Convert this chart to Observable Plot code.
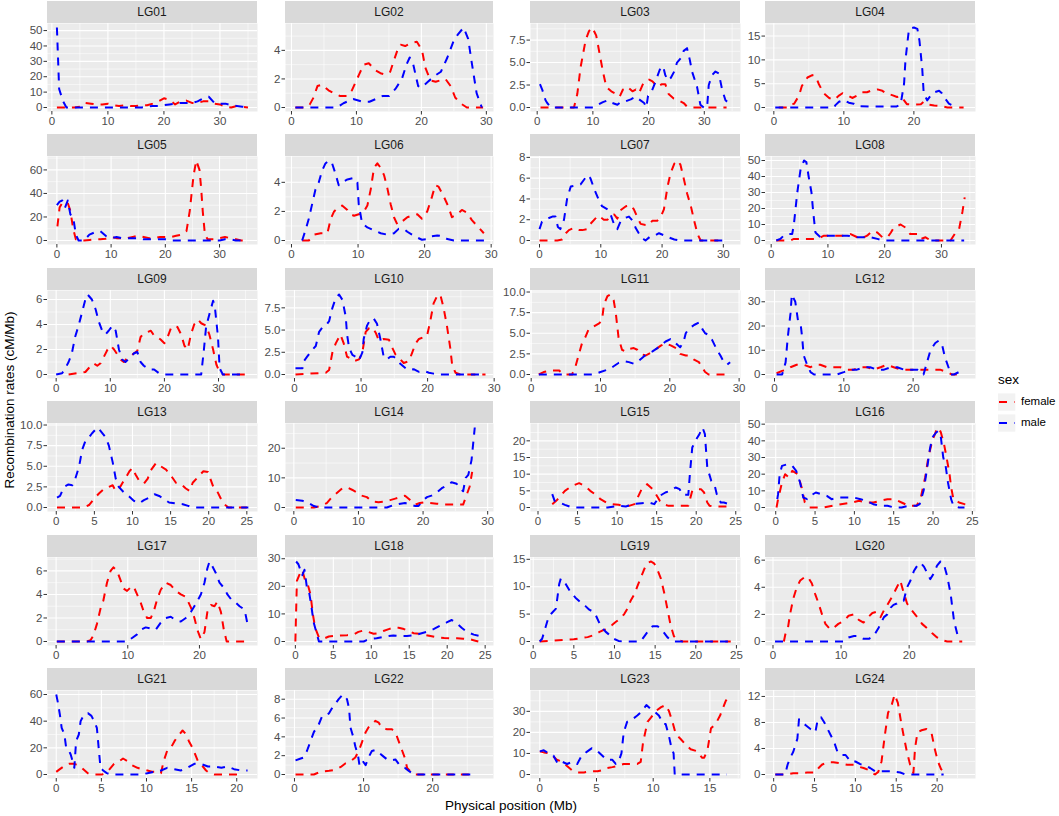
<!DOCTYPE html>
<html><head><meta charset="utf-8">
<script src="https://cdn.jsdelivr.net/npm/d3@7"></script>
<script src="https://cdn.jsdelivr.net/npm/@observablehq/plot@0.6"></script>
<style>
body{margin:0;background:#fff;}
#chart{position:relative;width:1059px;height:816px;background:#fff;font-family:"Liberation Sans",Arial,sans-serif;overflow:hidden}
.strip{position:absolute;background:#D9D9D9;color:#1A1A1A;font-size:12px;text-align:center;height:22px;line-height:22px;}
.panel{position:absolute;}
#deco{position:absolute;left:0;top:0;}
</style></head><body><div id="chart"></div><script>
const panelNames = ["LG01","LG02","LG03","LG04","LG05","LG06","LG07","LG08","LG09","LG10","LG11","LG12","LG13","LG14","LG15","LG16","LG17","LG18","LG19","LG20","LG21","LG22","LG23","LG24"];
const sexLevels = ["female","male"];

// [position (Mb), rate (cM/Mb)]
const f01 = [[0.9,0],[2,0],[4,0],[5,0.5],[6,3],[7,2.5],[8,2],[9,2],[10,2.5],[11,1.5],[12,1],[13,1.5],[14,1],[15,1],[16,1.5],[17,1.5],[18,2.5],[19,4],[20,6],[21,5],[22,2],[23,4],[24,4.5],[25,3],[26,3],[27,4],[28,4],[29,2.5],[30,2],[31,0.5],[32,0],[33,1],[34,0.5],[35,0]];
const m01 = [[0.9,52],[1.3,12],[2,4],[2.6,0],[5,0],[8,0],[10,0],[12,0],[14,0],[16,0],[17,0.5],[18,1],[19,1],[20,1.5],[21,2],[22,2.5],[23,3],[24,3],[25,3],[26,4],[27,6],[28,7],[29,3],[30,2.5],[31,2.5],[32,1.5],[33,1],[34,0.5],[35,0]];
const f02 = [[0.6,0],[2,0],[2.8,0.2],[3.4,0.7],[4,1.5],[4.7,1.6],[5.7,1.2],[6.5,1],[7.5,0.8],[8.5,0.8],[9.3,1.2],[10.4,2.3],[11.1,3],[11.9,3.1],[12.9,2.6],[13.7,2.4],[14.5,2.3],[15.2,2.5],[15.7,3.2],[16.3,4],[16.8,4.4],[17.5,4.3],[18.3,4.5],[19.3,4.6],[20.1,4],[20.6,2.8],[21.4,1.9],[22.2,1.8],[22.9,1.9],[23.7,2],[24.5,1.5],[25.2,0.7],[26,0.3],[27,0],[29.5,0]];
const m02 = [[0.6,0],[7,0],[8,0.3],[9.5,0.6],[11,0.4],[12,0.4],[13,0.6],[14,0.8],[15,0.8],[16,1.3],[17,2],[17.7,3],[18.2,3.5],[18.7,3.1],[19.5,1.5],[20,1.4],[21,1.8],[22,2.2],[23,2.5],[24,3.5],[25,4.7],[25.6,5.1],[26.5,5.6],[27.2,4.8],[27.8,3],[28.5,1],[29.3,0]];
const f03 = [[0.6,0],[3,0],[6.6,0],[7.2,1.5],[7.8,4.5],[8.7,7.5],[9.3,8.5],[9.9,8.9],[10.6,8],[11.2,6],[11.8,4],[12.4,2.3],[13.3,1.8],[14.2,1.5],[14.8,1.2],[15.4,2],[16.2,2.3],[17.1,1.8],[17.7,2],[18.3,1.6],[18.9,2.5],[19.5,3],[20.1,3.1],[20.7,2.9],[21.6,2.3],[22.4,2.6],[23,2.6],[23.6,1.5],[24.5,1],[25.4,0.8],[26.3,0.5],[26.9,0.1],[27.8,0],[34,0]];
const m03 = [[0.5,2.6],[0.9,2],[1.5,0.8],[1.8,0.5],[2.5,0],[10,0],[10.9,0.3],[11.8,0.6],[12.7,0.8],[13.5,0.5],[14.4,0.3],[15,0.6],[15.9,0.7],[16.8,0.9],[17.7,1.2],[18.3,0.9],[19.2,0.5],[19.6,0],[19.9,1.3],[20.5,1.7],[21.2,2.8],[22,4.2],[22.6,4.6],[23,3.6],[23.5,3],[24,3.3],[24.6,4],[25.1,5],[25.8,5.5],[26.3,6.3],[26.9,6.6],[27.4,5.3],[27.8,4],[28.7,2.3],[29.3,0.3],[29.9,0],[30.5,0],[30.8,2.5],[31.4,3.6],[32,4],[32.6,3.8],[33.2,2],[33.8,0.8],[34.4,0.5]];
const f04 = [[0.7,0],[1.9,0],[2.4,0.7],[2.9,0.8],[3.6,2.5],[4,4.5],[4.8,6.3],[5.5,6.8],[6,6.5],[6.4,5],[7.1,3],[7.9,2],[8.6,1.6],[9.3,2.5],[9.8,3],[10.5,2.6],[11.2,2],[11.9,2.5],[12.6,3.2],[13.3,3.2],[14,3.6],[14.8,3.8],[15.5,3.5],[16.2,2.8],[16.9,2.6],[17.6,2.2],[18.1,2.4],[18.6,1.5],[19,0.7],[20,0.6],[21,0.7],[21.4,1.2],[22.1,0.6],[22.9,0.4],[23.8,0.3],[24.8,0],[27.1,0]];
const m04 = [[0.2,0],[8.6,0],[8.8,0.5],[9.3,1.2],[10,1.6],[10.7,1],[11.4,0.8],[11.9,0.3],[14,0.2],[17.5,0.2],[18.1,0.6],[18.6,5],[18.8,10],[19.3,16.5],[20,16.8],[20.5,16.5],[20.8,14],[21.2,8],[21.4,3],[21.9,1.5],[22.4,2.5],[22.9,3.2],[23.6,3.5],[24,3],[24.5,1.8],[25,0.8],[25.7,0.3],[26.2,0]];
const f05 = [[0.1,12],[0.5,28],[1,32],[2,32],[2.5,25],[3,10],[3.5,1],[4,0],[5,0],[6,0.5],[7,1],[8,1],[9,1.5],[10,3],[11,2],[12,2],[13,2],[14,3],[15,4],[16,3],[17,2],[18,2],[19,3],[20,3],[21,3],[22,4],[23,5],[23.9,8],[24.5,25],[25.2,55],[25.7,68],[26.3,60],[26.6,45],[26.9,25],[27.3,5],[27.8,1],[29,1],[30,2],[31,3],[32,2],[33,1],[34,0],[35.2,0]];
const m05 = [[0,30],[0.5,33],[1,34],[1.5,28],[2,34],[2.5,22],[3,20],[3.5,5],[4,0],[5,0],[6,5],[7,7],[8,8],[9,4],[10,2],[11,3],[12,2],[13,2],[14,2],[15,2],[16,1],[17,1],[18,1],[19,1],[20,1],[21,0],[30,0],[31,1],[32,1],[33,0],[35,0]];
const f06 = [[1.6,0],[2.6,0],[3.4,0.4],[4.4,0.5],[5.4,0.5],[5.9,1.5],[6.4,2],[7.1,2.3],[7.6,2.4],[8.4,2.1],[8.9,1.8],[9.4,1.7],[10.1,1.8],[10.9,2],[11.4,2.4],[11.9,3.5],[12.4,5],[12.9,5.3],[13.4,5],[13.9,4.5],[14.4,3.6],[14.9,2.5],[15.4,1.6],[15.9,1.1],[16.6,1.3],[17.4,1.6],[18.1,1.7],[18.9,1.8],[19.6,1.5],[20.4,2],[21.1,3],[21.6,3.8],[22.1,3.7],[22.9,3],[23.6,2.3],[24.1,1.6],[24.9,1.8],[25.6,2.1],[26.4,1.9],[27.1,1.4],[27.9,1],[28.9,0.5]];
const m06 = [[1.6,0],[2.1,0.7],[2.6,1.5],[3.1,2.5],[3.6,3.5],[4.1,4],[4.6,4.8],[5.1,5.3],[5.6,5.5],[6.1,5.3],[6.6,4.6],[7.1,3.8],[7.6,4],[8.4,4.2],[9.4,4.3],[9.9,4],[10.1,2.5],[10.6,1.2],[11.4,0.9],[12.4,0.7],[13.4,0.5],[14.4,0.4],[15.4,0.5],[16.1,0.8],[16.9,0.8],[17.4,0.6],[18.1,0.4],[18.9,0.2],[19.6,0.05],[20.4,0.1],[21.1,0.3],[21.9,0.35],[22.6,0.3],[23.4,0.1],[24.4,0],[29.1,0]];
const f07 = [[0,0],[2.9,0],[3.7,0.1],[4.3,0.7],[4.8,1],[5.6,1.2],[6.4,1],[7,1],[7.8,1.1],[8.3,1.6],[9.1,2.1],[9.6,2.4],[10.5,2],[11.1,2],[11.6,2.4],[12.2,2.5],[12.7,2.1],[13.2,2.9],[14.1,3.3],[14.9,3.4],[15.4,3],[16,2.2],[16.5,1.6],[17.3,1.5],[17.9,1.5],[18.4,1.9],[19.2,1.9],[19.8,2.3],[20.3,3],[20.9,5.2],[21.4,6.5],[22,7.4],[22.5,7.7],[23,7.3],[23.6,5.8],[24.1,4.5],[24.7,3.3],[25.2,2],[25.8,0.6],[26.3,0],[30.1,0]];
const m07 = [[0,1.1],[0.4,1.8],[1.3,2.1],[2.1,2.3],[2.6,2.3],[3,1.3],[3.4,1.1],[4,2],[4.5,4],[5.1,5.2],[5.9,5.3],[6.7,5.4],[7.2,5.8],[7.8,6.3],[8.3,6],[8.9,5],[9.6,4],[10.2,3.3],[11.1,3],[11.6,2.5],[12.2,1.5],[12.7,1.1],[13.2,1.8],[14.1,2.2],[14.6,2.3],[15.2,1.9],[15.7,1.2],[16.2,0.7],[16.8,0.2],[17.3,0],[18.1,0.4],[18.9,0.5],[19.5,0.7],[20.3,0.5],[21.1,0.3],[22,0.1],[23,0],[30.1,0]];
const f08 = [[0.9,0],[3.4,0],[4,1],[5.2,1],[8.1,1],[9.3,3],[11.1,3],[12.8,3],[14,4],[15.2,2],[15.8,1],[16.9,3],[17.8,6],[18.7,5],[19.6,2],[20.5,2],[21.1,5],[21.6,8],[22.8,10],[23.7,8],[24.5,4],[25.8,4],[26.4,1],[27.2,2],[28.1,0],[31.6,0],[32.5,5],[33.1,7],[33.7,18],[34.1,27]];
const m08 = [[0.9,0],[1.6,1],[2.2,3],[2.8,4],[3.7,4],[4,10],[4.6,30],[5.2,45],[5.8,50],[6.2,49],[6.6,40],[7.1,30],[7.4,18],[7.8,5],[8.7,2],[9.9,3],[11.1,3],[13.4,3],[15.2,2],[16.4,2],[17.5,2],[18.7,1],[19.9,0],[34,0]];
const f09 = [[2.3,0],[5.4,0.2],[6,0.5],[6.9,0.9],[7.6,0.7],[8.2,0.9],[8.8,1.4],[9.5,2],[10.1,2.3],[10.7,2],[11.3,1.6],[11.9,1.2],[12.5,1],[13.1,1.3],[14.1,1.6],[15,1.9],[15.6,3],[16.2,3.3],[16.9,3.4],[17.5,3.5],[18.1,3.1],[18.7,3],[19.3,2.8],[20,2.5],[20.6,3],[21.2,3.7],[21.8,3.9],[22.4,3.8],[23.1,3.2],[23.7,2.3],[24.3,2],[24.9,3.2],[25.5,4],[26.2,4.4],[26.8,4.1],[27.7,3.9],[28.3,3.2],[29,2],[29.6,0.8],[30.2,0.2],[30.8,0],[35.5,0]];
const m09 = [[0,0],[1.1,0.1],[1.7,0.5],[2.3,1],[2.9,1.7],[3.5,3],[4.2,4],[4.8,5],[5.4,6],[5.8,6.4],[6.6,6],[7.3,5.2],[7.9,4.2],[8.5,3.5],[9.1,3.2],[9.7,3.5],[10.4,3.9],[11,3.5],[11.6,2],[12.2,1.2],[12.8,1],[13.5,1.3],[14.4,1.7],[15,1.8],[15.6,1],[16.2,0.7],[17.2,0.4],[18.1,0.4],[19,0.1],[20,0],[26.8,0],[27.3,2],[27.7,3.8],[28.3,4.8],[29,5.9],[29.3,5.5],[29.9,3],[30.2,0.5],[30.8,0],[34.8,0]];
const f10 = [[0.15,0],[4.7,0.2],[5.2,0.5],[5.7,2.5],[6.2,3.5],[6.9,4.5],[7.4,3.5],[7.9,2],[8.4,1.8],[8.9,1.5],[9.7,1.7],[10.2,2.5],[10.7,4.8],[11.2,5.2],[11.7,5.3],[12.2,4.7],[12.7,3.8],[13.4,4],[14.2,3.9],[14.7,3],[15.2,2.2],[15.9,1.7],[16.4,1.3],[17.2,1.5],[17.7,2.5],[18.2,3.5],[18.7,4],[19.4,4.2],[19.9,4.3],[20.4,6],[20.9,8],[21.4,8.8],[21.9,9],[22.4,7.5],[22.9,5.5],[23.4,3],[23.7,1],[24.2,0.2],[24.9,0],[28.7,0]];
const m10 = [[0.15,0.7],[1.2,0.7],[1.4,1.5],[1.9,2],[2.7,2.8],[3.2,3.2],[3.7,4.8],[4.2,5.3],[4.7,5.5],[5.2,6],[5.7,7.5],[6.2,8.6],[6.7,9],[7.2,8.4],[7.7,6.5],[7.9,4.5],[8.2,3],[8.7,2.2],[9.2,2],[9.7,1.6],[10.2,2.5],[10.4,4],[10.9,5.5],[11.4,6.2],[11.9,6.3],[12.4,5.7],[12.9,4],[13.4,2],[13.9,1.7],[14.4,2],[14.9,2],[15.4,1.7],[15.9,1.2],[16.7,0.7],[17.2,0.5],[17.9,0.6],[18.7,0.3],[19.4,0.4],[20.2,0.2],[20.9,0.1],[21.9,0],[28.7,0]];
const f11 = [[1.1,0],[1.8,0.3],[2.8,0.5],[4,0.5],[4.7,0],[5.9,0],[6.4,1],[6.9,2.5],[7.4,4],[7.8,4.5],[8.3,5.5],[9,5.8],[9.8,6.2],[10.2,6.5],[10.5,8.5],[11,9.5],[11.4,9.7],[11.9,9],[12.2,7.5],[12.4,6],[12.6,4.5],[13.1,3],[13.6,2.8],[14.1,3.1],[14.8,3.2],[15.3,3],[15.8,2.5],[16.5,2.3],[17.2,2.6],[17.9,3],[18.7,3.5],[19.4,3.8],[20.2,3.5],[20.9,3.2],[21.5,2.5],[22.3,2.3],[22.7,2.3],[23.5,1.8],[24.2,1.5],[24.7,0.8],[25.1,0.3],[25.6,0],[28.7,0]];
const m11 = [[1.1,0],[9,0],[10,0.3],[10.7,0.5],[11.4,0.7],[11.9,1],[12.6,1.4],[13.4,1.6],[14.1,1.5],[14.8,1.3],[15.3,1.5],[16,2],[16.7,2.5],[17.5,2.8],[18.2,3.2],[18.7,3.5],[19.4,4],[20.1,4.3],[20.6,4],[21.1,3.6],[21.5,3.3],[22,4],[22.3,5],[22.7,5.5],[23.5,6],[24.2,6.3],[24.7,5.5],[25.1,5],[25.6,4.8],[26.1,4.2],[26.8,3],[27.3,2.3],[27.8,1.5],[28.3,1.2],[28.7,1.5]];
const f12 = [[0.3,0.5],[1.1,1.5],[1.8,2],[2.3,3],[3.2,4],[4.2,4],[5.2,3],[5.9,4],[6.6,4],[7.6,3],[8.6,3],[9.5,3],[10.5,2],[11.4,2],[12.4,3],[13.4,3],[14.3,2],[15.3,3],[16.2,4],[17.2,3],[18.2,2],[19.1,2],[20.1,2],[21.1,2],[22,2],[23,2],[23.9,2],[24.9,1],[25.6,0],[26.3,0]];
const m12 = [[0.3,0],[1.1,0],[1.6,5],[1.9,15],[2.3,25],[2.5,33],[3,30],[3.4,22],[3.8,20],[4,15],[4.2,8],[4.7,4],[5.2,1],[5.7,0],[9,0],[10,1],[10.9,2],[11.9,2],[12.9,3],[13.8,3],[14.8,2],[15.8,2],[16.8,3],[17.7,3],[18.7,2],[19.6,2],[20.6,2],[21.5,0],[22,5],[22.5,10],[23.2,13],[23.7,14],[24.2,12],[24.6,7],[25.1,3],[25.4,0],[25.9,0],[26.6,1]];
const f13 = [[0.1,0],[3.6,0],[4.3,0.3],[4.9,1],[5.6,1.7],[6.3,2.3],[6.9,2.5],[7.4,2.7],[7.8,2],[8.2,2.2],[8.7,3],[9.1,3.6],[9.6,4.4],[10,4.8],[10.4,4],[10.9,3.2],[11.5,2.9],[12,3.5],[12.4,4.5],[13.1,5.4],[13.7,5],[14.4,4.6],[15.1,3.8],[15.7,3],[16.4,2.8],[17,2.3],[17.5,2],[17.9,3],[18.6,3.7],[19.3,4.4],[19.9,4.3],[20.6,2.5],[21.2,1.8],[21.9,0.5],[22.6,0],[25.2,0]];
const m13 = [[0.1,1.2],[0.5,1.4],[1,2.5],[1.6,2.8],[2.1,2.7],[2.5,3.5],[3,5],[3.4,7],[3.8,8],[4.3,8.5],[4.7,9],[5.4,9.7],[5.8,9.3],[6.5,8.5],[6.9,7.5],[7.4,5.5],[7.8,3.5],[8.2,2.5],[8.9,1.8],[9.6,1.3],[10.2,0.8],[10.9,0.5],[11.5,0.9],[12.2,1.2],[12.9,1.6],[13.5,1.4],[14.2,1],[14.8,0.6],[15.7,0.5],[16.6,0.4],[17.3,0.2],[17.9,0],[25.2,0]];
const f14 = [[0.3,0],[3.1,0],[4.1,0.5],[5.1,1.5],[5.9,3.5],[6.7,5],[7.5,6.5],[8.2,6.8],[9,6],[9.8,5],[10.5,4],[11.3,3.5],[12.1,2],[13.1,1.8],[14.1,2],[14.9,2.5],[15.7,3],[16.5,3.5],[17.2,4],[18,2.5],[18.8,1],[19.5,1.5],[20.3,1.8],[21.1,1.5],[22.1,1.3],[23.1,1],[24.2,1],[25.2,1],[26.2,1],[26.7,4],[27.2,7],[27.6,12]];
const m14 = [[0.3,2.5],[1.3,2.3],[2.3,1.5],[3.1,0.5],[3.9,0],[14.4,0],[15.4,0.8],[16.5,1.3],[17.2,1.5],[18,1],[18.8,0.5],[19.3,0.5],[19.8,2],[20.6,3.5],[21.3,4],[22.1,5],[22.9,6.5],[23.7,7.5],[24.4,8.5],[25.2,8],[25.7,6.5],[26.2,5.5],[26.6,10],[27,11],[27.5,16],[28,27]];
const f15 = [[1.8,1],[2.3,2],[2.7,3],[3.4,5],[4.3,6.5],[5.2,7.3],[5.9,6.5],[6.6,5],[7.2,4],[7.9,2.5],[8.6,1.5],[9.3,1],[10.2,0.8],[10.9,0.5],[11.5,0.5],[12.2,1],[12.7,3.5],[13.1,5.5],[13.8,7],[14.5,5.5],[14.9,4],[15.4,2],[15.8,1],[16.5,0.5],[17.4,0.5],[18.3,0.5],[19,0.5],[19.5,5],[20.1,5.5],[20.6,5.5],[21,4.5],[21.4,1.5],[21.7,0.5],[22.4,0.3],[23.3,0.3],[24.2,0.3]];
const m15 = [[1.8,4],[2.1,2],[2.7,1.5],[3.4,0.8],[4.3,0],[8.8,0],[10.2,0.5],[11.1,0.3],[12,1],[13.1,1.3],[14,1.5],[14.7,1],[15.4,3.5],[16.1,4.5],[16.7,5],[17.4,6],[17.9,5.5],[18.3,3.8],[19,3.8],[19.2,10],[19.5,18],[19.9,20],[20.4,22],[20.8,24],[21.1,22],[21.4,12],[21.9,8],[22.3,7],[22.6,4],[23.1,1.5],[23.5,1.5],[24.2,1]];
const f16 = [[0.1,0],[0.3,5],[0.8,15],[1.2,20],[1.7,18],[2.1,22],[2.8,20],[3.3,12],[3.7,3],[4.2,0],[6,0],[8.3,2],[9.7,3],[10.6,4],[11.5,3],[12.4,3],[13.3,4],[14.2,5],[15.1,5],[16,3],[16.9,1],[17.9,1],[18.4,5],[19,18],[19.4,30],[19.9,40],[20.4,46],[20.7,48],[21,45],[21.4,38],[21.8,28],[22.1,20],[22.3,12],[22.6,5],[23.3,3],[24,2],[24.2,1]];
const m16 = [[0.2,5],[0.3,8],[0.5,20],[0.8,25],[1.5,26],[2.1,25],[2.6,22],[3.1,15],[3.5,6],[4,5],[4.4,7],[5.1,9],[5.8,8],[6.5,7],[7.1,5],[8.1,6],[9,6],[9.9,6],[10.8,5],[11.5,4],[12.4,2],[13.3,1],[14.2,1],[15.1,0],[16,0],[16.9,1],[17.9,1],[18.3,2],[18.8,10],[19.2,22],[19.6,35],[19.9,42],[20.4,45],[20.7,46],[21,42],[21.3,30],[21.6,25],[21.9,15],[22.3,5],[22.6,1],[23.3,0],[24,0]];
const f17 = [[0.1,0],[4.3,0],[4.8,0.1],[5.2,0.5],[5.7,1.5],[6.2,2.8],[6.6,3.5],[7.1,5],[7.6,6],[8,6.3],[8.5,6],[9,5.2],[9.4,4.5],[9.9,4.3],[10.4,4.6],[10.8,4.7],[11.3,4],[11.8,3.3],[12.2,2.6],[12.7,2],[13.2,2],[13.6,2.5],[14.1,3.6],[14.6,4.4],[15.3,5],[16,4.8],[16.7,4.3],[17.4,4],[18.1,3.8],[18.8,2.9],[19.3,2],[19.7,1],[20.2,0.2],[20.7,0.8],[21.1,2.5],[21.6,3.1],[22.1,3],[22.5,3.4],[23,2.5],[23.4,1],[23.8,0],[26.7,0]];
const m17 = [[0.1,0],[9.9,0],[10.6,0.3],[11.3,0.6],[11.8,1],[12.5,1.2],[13.2,1.1],[13.9,1],[14.6,1.6],[15.3,2],[16,2.1],[16.7,1.8],[17.4,1.7],[18.1,2],[18.8,2.5],[19.5,3.2],[20.2,4],[20.7,5],[21.1,6.2],[21.4,6.8],[21.8,6.4],[22.3,5.8],[22.8,5],[23.5,4.5],[23.9,4],[24.4,3.6],[24.9,3.4],[25.6,3],[26.3,2.7],[26.7,1.5]];
const f18 = [[0,0],[0.2,22],[0.5,24],[0.9,26],[1.3,22],[1.6,21],[2,17],[2.3,10],[2.6,5],[3.1,1.5],[3.7,1],[4.4,1.8],[5,2],[5.9,2.2],[6.8,2.3],[7.7,2.6],[8.3,3.5],[9,4],[9.6,3.5],[10.3,2.8],[10.9,3],[11.6,3.8],[12.3,4.5],[12.9,5],[13.6,5],[14.3,4.5],[14.9,3.8],[15.6,3],[16.3,2.8],[16.9,2.5],[17.8,2],[18.7,1.5],[19.6,1.3],[20.4,1.2],[21.3,1.2],[22.1,1],[23,0.8],[23.7,0.3],[24.1,0]];
const m18 = [[0.1,29],[0.4,28],[0.9,24],[1.2,26],[1.5,20],[1.8,18],[2.1,13],[2.4,7],[2.8,3],[3.1,0],[9,0],[9.4,0.5],[10.1,1],[10.7,1.2],[11.6,1.7],[12.3,2],[12.9,2.2],[13.8,2],[14.7,2],[15.6,2.2],[16.4,2.8],[17.3,3.5],[18.2,4.5],[19.1,5.8],[20,7],[20.6,7.8],[21.3,6.5],[21.9,5],[22.6,3.5],[23.5,2.5],[24.3,2],[25,1.5]];
const f19 = [[0.8,0],[5,0.4],[5.8,0.6],[6.7,0.8],[7.5,1.2],[8.1,1.7],[8.5,2],[9.1,2.3],[9.7,3],[10.1,3.5],[10.8,4.3],[11.2,5],[11.6,6],[12,7.5],[12.4,8.5],[12.8,10],[13.2,11.5],[13.6,13],[14,14.3],[14.5,14.6],[14.9,14.2],[15.3,13],[15.7,11.5],[16.1,9],[16.5,6],[16.9,3],[17.3,1],[17.7,0.3],[18.4,0],[24.3,0]];
const m19 = [[0.8,0],[1.1,0.5],[1.5,2.5],[1.9,4.5],[2.3,5.2],[2.8,6],[3.2,10.5],[3.4,11.5],[4,10.5],[4.6,9],[5.2,8],[5.8,7.2],[6.4,6.5],[6.9,5.8],[7.3,5.5],[7.7,4.8],[8.1,3.5],[8.5,2.5],[8.9,1.8],[9.3,1.3],[9.9,0.5],[10.5,0.1],[11,0],[13.2,0],[13.6,0.8],[14.2,2],[14.7,2.8],[15.3,2.8],[15.9,2],[16.5,0.8],[16.9,0.3],[17.3,0],[24.3,0]];
const f20 = [[1.6,0],[1.8,0.5],[2.2,1],[2.5,2],[3,3.2],[3.5,4],[4,4.5],[4.8,4.8],[5.2,4.7],[5.7,4.3],[6.2,3.5],[6.7,2.8],[7.2,2],[7.7,1.3],[8.4,0.9],[8.9,1],[9.6,1.3],[10.4,1.5],[11.1,1.9],[11.9,2],[12.6,1.6],[13.3,1.4],[13.8,1.7],[14.6,2.1],[15.3,2.2],[15.8,1.8],[16.3,2.3],[16.8,2.7],[17.5,3.3],[18.2,4],[18.7,4.5],[19.2,3.6],[19.7,2.8],[20.4,2.3],[21.2,1.8],[21.9,1.3],[22.6,1],[23.4,0.6],[24.1,0.3],[24.9,0.1],[25.6,0],[27.8,0]];
const m20 = [[0.3,0],[10.4,0],[11.1,0.3],[11.9,0.4],[12.6,0.4],[13.3,0.2],[14.1,0.2],[14.8,0.4],[15.5,1],[16.3,1.8],[16.8,2],[17.3,2.5],[17.7,2.7],[18.2,2.8],[18.7,3],[19.2,3],[19.7,4],[20.2,4.5],[20.7,5.2],[21.2,5.6],[21.7,5.8],[22.2,5.5],[22.7,5],[23.1,4.6],[23.6,5],[24.1,5.6],[24.6,5.9],[25.1,5.7],[25.6,4.8],[26.1,3.5],[26.6,1.5],[27.1,0.5],[27.8,0.2]];
const f21 = [[0,2],[0.4,4],[1,7],[1.4,8],[1.9,8],[2.5,7],[3,4],[3.5,1],[4,0],[4.5,0],[5.1,0],[5.5,1.5],[5.8,3],[6.4,8],[7,10],[7.4,12],[7.9,10],[8.4,7],[9,5],[9.5,4],[10.1,3],[10.6,2],[11.2,2],[11.6,1],[11.9,10],[12.3,18],[12.7,20],[13.1,25],[13.4,28],[14,33],[14.4,30],[14.7,25],[15.1,20],[15.7,10],[16,8],[16.6,3],[17,1],[17.5,0],[20.5,0]];
const m21 = [[0,60],[0.15,55],[0.4,45],[0.6,35],[0.9,30],[1.1,20],[1.4,18],[1.6,15],[1.9,8],[2,5],[2.2,25],[2.5,30],[2.7,40],[3,44],[3.5,46],[3.9,44],[4.2,40],[4.5,35],[4.7,20],[4.9,5],[5.2,3],[5.6,1],[6,0],[9.4,0],[10.1,1],[10.8,2],[11.6,3],[12.3,5],[13.1,4],[13.8,3],[14.5,5],[15.3,8],[16,8],[16.8,6],[17.5,6],[18.3,5],[19,6],[19.7,4],[20.5,3],[21.2,3]];
const f22 = [[0.15,0],[2.8,0],[3.8,0.3],[5,0.4],[5.9,0.5],[6.7,0.8],[7.4,1.2],[8.1,1.4],[8.8,1.8],[9.3,2.5],[9.8,3.5],[10.3,4.5],[10.7,5],[11.2,5.3],[11.7,5.7],[12.2,5.5],[12.6,5],[13.4,4.8],[14.1,4.8],[14.6,4.5],[15.1,3.5],[15.6,2.5],[16,1.7],[16.3,0.7],[16.8,0.3],[17.5,0],[26.2,0]];
const m22 = [[0.15,1.5],[0.9,1.7],[1.3,1.8],[1.8,2.5],[2.3,3.5],[2.8,4.5],[3.5,5.3],[4,6.2],[4.5,6.3],[5,6.5],[5.4,7],[5.9,7.5],[6.4,8],[7,8.5],[7.6,8],[7.9,7],[8.1,5],[8.5,4],[8.8,3],[9.2,2],[9.4,1],[9.8,1.5],[10.3,1],[10.7,1.8],[11.2,2.5],[11.7,2.6],[12.4,2.2],[12.9,1.9],[13.4,1.6],[13.9,1.5],[14.6,1.6],[15.1,1.1],[15.6,0.8],[16,0.7],[16.5,0.4],[17.3,0],[26.2,0]];
const f23 = [[0,11],[0.35,10.5],[0.9,10],[1.5,7],[2,6],[2.4,4],[2.85,2],[3.3,1],[3.9,1],[4.5,1.5],[5.1,1.5],[5.5,2],[5.9,3],[6.4,3.5],[6.8,4],[7.4,5],[8,5],[8.6,5],[8.9,6],[9.1,15],[9.3,20],[9.5,25],[9.8,27],[10.2,30],[10.7,32],[11.1,33],[11.4,30],[11.7,25],[12,19],[12.4,17],[12.9,14],[13.3,12],[13.9,11],[14.3,8],[14.5,8],[14.8,12],[15.1,22],[15.5,24],[15.9,28],[16.4,35],[16.8,38]];
const m23 = [[0,11],[0.35,11.5],[0.8,10],[1.2,9],[1.6,5],[2,6],[2.4,5],[2.85,6],[3.3,5],[3.7,9],[4.2,11],[4.6,12.5],[5.1,11],[5.5,9],[5.9,7],[6.4,7],[6.7,5],[7,7],[7.2,10],[7.4,20],[7.7,25],[8.1,26],[8.6,28],[9,30],[9.4,33],[9.8,31],[10.1,30],[10.5,28],[10.9,24],[11.1,24],[11.4,18],[11.6,13],[11.8,10],[11.9,0],[16.5,0]];
const f24 = [[0.2,0],[1.6,0],[2.4,0.2],[3.3,0.2],[4.1,0.3],[5.1,0.3],[5.5,1],[5.9,1.5],[6.5,1.9],[7.3,1.9],[8.2,1.7],[9,1.5],[9.8,1.5],[10.4,1.2],[11,1],[11.6,0.7],[12,0.3],[12.4,0],[12.8,0.4],[13.2,2],[13.6,6],[14,9.5],[14.4,10.5],[14.8,12.3],[15.2,11],[15.6,8],[15.9,6],[16.3,3.5],[16.7,1.5],[17.1,0.2],[17.3,4],[17.6,6.5],[18.1,6.8],[18.7,7],[19.3,6.5],[19.7,4],[20.1,2],[20.5,0.8],[21,0.3]];
const m24 = [[0.2,0],[1.4,0],[1.7,1.5],[2,2.5],[2.4,3.5],[2.9,5.5],[3.1,8.5],[3.5,8],[4,7.5],[4.5,7],[5.1,6.5],[5.4,8.5],[5.8,8.8],[6.2,8],[6.6,7],[7,6],[7.4,5],[7.8,3.5],[8.2,3],[8.8,3],[9.4,2],[10,2],[10.6,1.6],[11.2,1.4],[11.8,1],[12.4,0.5],[13.1,0.5],[14.3,0.5],[15.5,0.3],[16.1,0],[20.8,0]];

const femaleSeries = [f01,f02,f03,f04,f05,f06,f07,f08,f09,f10,f11,f12,f13,f14,f15,f16,f17,f18,f19,f20,f21,f22,f23,f24];
const maleSeries = [m01,m02,m03,m04,m05,m06,m07,m08,m09,m10,m11,m12,m13,m14,m15,m16,m17,m18,m19,m20,m21,m22,m23,m24];

// x-axis limits of each facet (Mb), as shown
const xLimits = [[-0.78,36.7],[-0.92,31.1],[-1.2,36.5],[-1.19,28.8],[-1.73,37],[-0.9,30.35],[-1.47,32.8],[-1.0,36.0],[-1.6,37.2],[-1.35,29.9],[-0.1,30.2],[-1.3,29.0],[-1.15,26.4],[-1.29,30.9],[-0.95,25.6],[-1.3,25.4],[-1.2,28.1],[-1.3,26.1],[-0.33,25.5],[-1.1,29.75],[-0.97,22.3],[-1.3,28.8],[-0.82,17.7],[-1.0,24.7]];
const xTicks = [[0,10,20,30],[0,10,20,30],[0,10,20,30],[0,10,20],[0,10,20,30],[0,10,20,30],[0,10,20,30],[0,10,20,30],[0,10,20,30],[0,10,20,30],[0,10,20,30],[0,10,20],[0,5,10,15,20,25],[0,10,20,30],[0,5,10,15,20,25],[0,5,10,15,20,25],[0,10,20],[0,5,10,15,20,25],[0,5,10,15,20,25],[0,10,20],[0,5,10,15,20],[0,10,20],[0,5,10,15],[0,5,10,15,20]];
const yTicks = [[0,10,20,30,40,50],[0,2,4],[0,2.5,5,7.5],[0,5,10,15],[0,20,40,60],[0,2,4],[0,2,4,6,8],[0,10,20,30,40,50],[0,2,4,6],[0,2.5,5,7.5],[0,2.5,5,7.5,10],[0,10,20,30],[0,2.5,5,7.5,10],[0,10,20],[0,5,10,15,20],[0,10,20,30,40,50],[0,2,4,6],[0,10,20,30],[0,5,10,15],[0,2,4,6],[0,20,40,60],[0,2,4,6,8],[0,10,20,30],[0,4,8,12]];

const sexColors = ["#FF0000","#0000FF"];
const xTitle = "Physical position (Mb)";
const yTitle = "Recombination rates (cM/Mb)";

// ---- layout ----
const FONT = '"Liberation Sans", Arial, sans-serif';
const colLeft = [47, 285, 530, 765];
const colWidth = [210, 208, 210, 210];
const rowStep = 133.4, stripH = 22, panelH = 88;
const ML = 44, MR = 12, MB = 24;
const DASH = "8,7", LW = 2;
const TICKFONT = 11.5;

const chart = document.getElementById("chart");

function minorOf(ticks, dom) {
  const step = ticks[1] - ticks[0];
  const c = [ticks[0] - step / 2, ...ticks.map(t => t + step / 2)];
  return c.filter(v => v > dom[0] && v < dom[1]);
}
function fmt(ticks) {
  const dec = ticks.some(t => !Number.isInteger(t));
  return d => dec ? d.toFixed(1) : String(d);
}

panelNames.forEach((name, i) => {
  const r = Math.floor(i / 4), c = i % 4;
  const top = 1 + rowStep * r;
  const left = colLeft[c], w = colWidth[c];

  const strip = document.createElement("div");
  strip.className = "strip";
  strip.style.left = left + "px";
  strip.style.top = top + "px";
  strip.style.width = w + "px";
  strip.textContent = name;
  chart.appendChild(strip);

  const fem = femaleSeries[i].map(([x, y]) => ({x, y, sex: sexLevels[0]}));
  const mal = maleSeries[i].map(([x, y]) => ({x, y, sex: sexLevels[1]}));
  const ys = [...fem, ...mal].map(d => d.y);
  const y0 = d3.min(ys), y1 = d3.max(ys), yr = y1 - y0;
  const yDom = [y0 - 0.05 * yr, y1 + 0.05 * yr];
  const xDom = xLimits[i];
  const xt = xTicks[i], yt = yTicks[i];

  const svg = Plot.plot({
    width: ML + w + MR,
    height: panelH + MB,
    marginLeft: ML, marginRight: MR, marginTop: 0, marginBottom: MB,
    x: {domain: xDom, label: null},
    y: {domain: yDom, label: null},
    style: {fontFamily: FONT, fontSize: TICKFONT + "px", background: "transparent", overflow: "visible"},
    marks: [
      Plot.frame({fill: "#EBEBEB", stroke: "none"}),
      Plot.ruleX(minorOf(xt, xDom), {stroke: "#FFFFFF", strokeWidth: 0.55}),
      Plot.ruleY(minorOf(yt, yDom), {stroke: "#FFFFFF", strokeWidth: 0.55}),
      Plot.ruleX(xt, {stroke: "#FFFFFF", strokeWidth: 1.1}),
      Plot.ruleY(yt, {stroke: "#FFFFFF", strokeWidth: 1.1}),
      Plot.line(fem, {x: "x", y: "y", stroke: sexColors[0], strokeWidth: LW, strokeDasharray: DASH, strokeLinecap: "butt"}),
      Plot.line(mal, {x: "x", y: "y", stroke: sexColors[1], strokeWidth: LW, strokeDasharray: DASH, strokeLinecap: "butt"}),
      Plot.axisX(xt, {tickSize: 3.5, tickPadding: 1.5, stroke: "#333333", fill: "#4D4D4D", fontSize: TICKFONT, tickFormat: fmt(xt), label: null}),
      Plot.axisY(yt, {tickSize: 3.5, tickPadding: 1.5, stroke: "#333333", fill: "#4D4D4D", fontSize: TICKFONT, tickFormat: fmt(yt), label: null})
    ]
  });
  svg.classList.add("panel");
  svg.style.left = (left - ML) + "px";
  svg.style.top = (top + stripH) + "px";
  chart.appendChild(svg);
});

// titles and legend
const deco = d3.select(chart).insert("svg", ":first-child")
  .attr("id", "deco").attr("width", 1059).attr("height", 816)
  .style("font-family", FONT);

deco.append("text").attr("x", 511).attr("y", 806).attr("text-anchor", "middle")
  .attr("dominant-baseline", "middle").attr("font-size", 13.5).attr("fill", "#000").text(xTitle);
deco.append("text").attr("transform", "translate(10,400) rotate(-90)").attr("text-anchor", "middle")
  .attr("dominant-baseline", "middle").attr("font-size", 13.5).attr("fill", "#000").text(yTitle);

const lg = d3.select(chart).append("svg").attr("width", 1059).attr("height", 816)
  .style("position", "absolute").style("left", "0px").style("top", "0px").style("font-family", FONT);
lg.append("text").attr("x", 998).attr("y", 380).attr("dominant-baseline", "middle")
  .attr("font-size", 13.5).attr("fill", "#000").text("sex");
sexLevels.forEach((s, k) => {
  const cy = 402 + k * 21;
  lg.append("rect").attr("x", 998).attr("y", cy - 8.6).attr("width", 17.3).attr("height", 17.3).attr("fill", "#F2F2F2");
  lg.append("line").attr("x1", 999).attr("x2", 1014.5).attr("y1", cy).attr("y2", cy)
    .attr("stroke", sexColors[k]).attr("stroke-width", LW).attr("stroke-dasharray", DASH);
  lg.append("text").attr("x", 1021).attr("y", cy).attr("dominant-baseline", "middle")
    .attr("font-size", 11.5).attr("fill", "#000").text(s);
});
</script></body></html>
